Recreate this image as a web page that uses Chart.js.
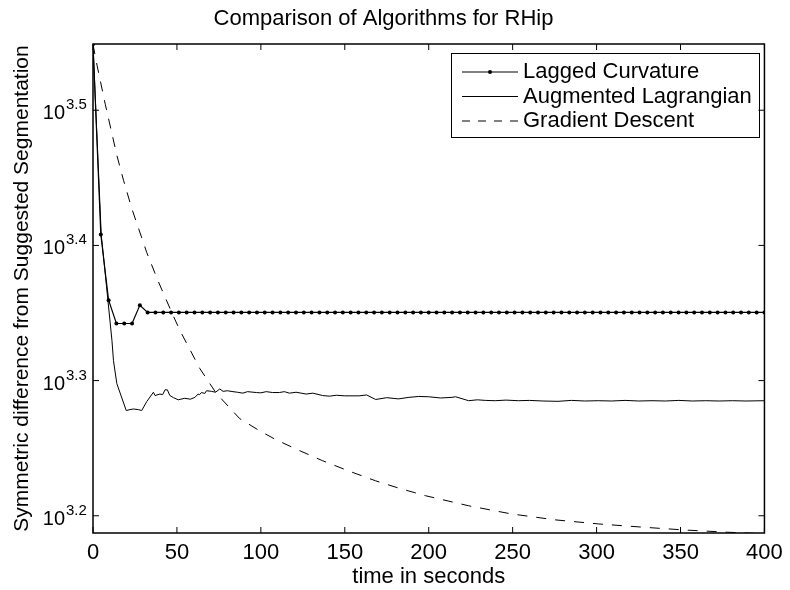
<!DOCTYPE html>
<html>
<head>
<meta charset="utf-8">
<script src="https://cdn.jsdelivr.net/npm/chart.js@4.4.0/dist/chart.umd.min.js"></script>
<style>
  body { margin: 0; background: #fff; }
</style>
</head>
<body>
<canvas id="myChart" width="790" height="590"></canvas>
<script>
const FONT = '"Liberation Sans", Arial, Helvetica, sans-serif'

const seriesNames = ['Lagged Curvature', 'Augmented Lagrangian', 'Gradient Descent']

// Lagged Curvature: one marker per iteration, 86 equal steps over 400 s
const lagStep = 400 / 86
const lagValues = [
  3538, 2559, 2288, 2199, 2199, 2199, 2268,
  2241, 2241, 2241, 2241, 2241, 2241, 2241, 2241, 2241, 2241,
  2241, 2241, 2241, 2241, 2241, 2241, 2241, 2241, 2241, 2241,
  2241, 2241, 2241, 2241, 2241, 2241, 2241, 2241, 2241, 2241,
  2241, 2241, 2241, 2241, 2241, 2241, 2241, 2241, 2241, 2241,
  2241, 2241, 2241, 2241, 2241, 2241, 2241, 2241, 2241, 2241,
  2241, 2241, 2241, 2241, 2241, 2241, 2241, 2241, 2241, 2241,
  2241, 2241, 2241, 2241, 2241, 2241, 2241, 2241, 2241, 2241,
  2241, 2241, 2241, 2241, 2241, 2241, 2241, 2241, 2241, 2241,
]

const augTimes = [
  0, 4.9, 8, 11.3, 12.2, 14.2, 19.8, 22, 24.1, 27,
  29, 32, 36, 37, 39.9, 41.5, 42.9, 44.3, 45.8, 48,
  50.8, 54.7, 58, 60.7, 62.6, 63.5, 64.6, 66.6, 67.6, 70.6,
  73, 75.5, 77.5, 80, 83.4, 86, 89.3, 92, 97.3, 100,
  103.2, 107, 111, 114, 117, 121, 127, 131, 136.8, 140.8,
  145, 150, 158.5, 163, 168.4, 175, 182, 188.2, 194, 200,
  207, 213.9, 216, 223.8, 229, 233.7, 239.6, 246, 253.4, 260,
  268, 277, 285, 293, 301, 309, 317, 325, 333, 341,
  349, 357, 365, 373, 381, 389, 400,
]
const augValues = [
  3538, 2559, 2346, 2136, 2064, 1985, 1896, 1899, 1901, 1899,
  1896, 1925, 1956, 1945, 1950, 1948, 1964, 1964, 1945, 1938,
  1931, 1936, 1933, 1939, 1950, 1948, 1955, 1952, 1961, 1959,
  1956, 1967, 1959, 1961, 1958, 1956, 1953, 1958, 1955, 1954,
  1958, 1955, 1955, 1958, 1953, 1956, 1950, 1953, 1945, 1943,
  1946, 1944, 1944, 1947, 1932, 1938, 1934, 1939, 1942, 1941,
  1937, 1939, 1941, 1928, 1931, 1929, 1928, 1930, 1928, 1929,
  1927, 1926, 1929, 1927, 1928, 1927, 1929, 1927, 1928, 1927,
  1929, 1927, 1928, 1927, 1928, 1927, 1928,
]

const gdTimes = [
  0, 2.4, 7.3, 14.2, 18.2, 23.1, 32, 38.9, 46.9, 51.8,
  63.6, 73.5, 87.4, 99.2, 109, 123, 136.6, 152.6, 168.4, 182.3,
  198, 223.8, 249, 275, 301, 328.6, 352, 378, 400,
]
const gdValues = [
  3538, 3414, 3195, 2929, 2806, 2675, 2482, 2362, 2241, 2173,
  2037, 1952, 1870, 1832, 1804, 1771, 1741, 1710, 1682, 1661,
  1640, 1612, 1590, 1574, 1563, 1554, 1547, 1541, 1537,
]

const yTickExps = [3.2, 3.3, 3.4, 3.5]
const yMin = 1539
const yMax = 3540

const zip = (xs, ys) => ys.map((y, i) => ({ x: xs[i], y }))
const lagPoints = lagValues.map((y, i) => ({ x: i * lagStep, y }))

// MATLAB-like box, inner ticks, 10^x labels and legend
const matlabBox = {
  id: 'matlabBox',
  afterDatasetsDraw(chart) {
    const ctx = chart.ctx
    const bx = 451.5, by = 53.5, bw = 308, bh = 84
    ctx.save()
    ctx.fillStyle = '#fff'
    ctx.strokeStyle = '#000'
    ctx.lineWidth = 1
    ctx.fillRect(bx, by, bw, bh)
    ctx.strokeRect(bx, by, bw, bh)
    const rows = [72, 96.5, 121]
    chart.data.datasets.forEach((ds, i) => {
      const y = rows[i]
      ctx.beginPath()
      ctx.setLineDash(ds.borderDash ? [8, 8] : [])
      ctx.lineWidth = ds.borderWidth
      ctx.moveTo(462, y)
      ctx.lineTo(518, y)
      ctx.stroke()
      ctx.setLineDash([])
      if (ds.pointRadius > 0) {
        ctx.beginPath()
        ctx.fillStyle = '#000'
        ctx.arc(490, y, ds.pointRadius, 0, Math.PI * 2)
        ctx.fill()
      }
      ctx.fillStyle = '#000'
      ctx.font = '22px ' + FONT
      ctx.textAlign = 'left'
      ctx.textBaseline = 'alphabetic'
      ctx.fillText(ds.label, 523, y + 6)
    })
    ctx.restore()
  },
  afterDraw(chart) {
    const ctx = chart.ctx
    const { left, right, top, bottom } = chart.chartArea
    const xs = chart.scales.x
    const ys = chart.scales.y
    ctx.save()
    ctx.strokeStyle = '#000'
    ctx.lineWidth = 1
    ctx.beginPath()
    xs.ticks.forEach(t => {
      const px = xs.getPixelForValue(t.value)
      ctx.moveTo(px, bottom)
      ctx.lineTo(px, bottom - 6)
      ctx.moveTo(px, top)
      ctx.lineTo(px, top + 6)
    })
    ys.ticks.forEach(t => {
      const py = ys.getPixelForValue(t.value)
      ctx.moveTo(left, py)
      ctx.lineTo(left + 6, py)
      ctx.moveTo(right, py)
      ctx.lineTo(right - 6, py)
    })
    ctx.stroke()
    ctx.lineWidth = 1.5
    ctx.strokeRect(left, top, right - left, bottom - top)

    ctx.fillStyle = '#000'
    ctx.textBaseline = 'alphabetic'
    yTickExps.forEach(e => {
      const py = ys.getPixelForValue(Math.pow(10, e))
      ctx.font = '20px ' + FONT
      ctx.textAlign = 'right'
      ctx.fillText('10', 65, py + 9)
      ctx.font = '15px ' + FONT
      ctx.textAlign = 'left'
      ctx.fillText(e.toFixed(1), 66, py - 1)
    })
    ctx.restore()
  },
}

Chart.defaults.font.family = FONT
Chart.defaults.color = '#000'

const ctx = document.getElementById('myChart').getContext('2d')
const myChart = new Chart(ctx, {
  type: 'line',
  data: {
    datasets: [
      {
        label: seriesNames[0],
        data: lagPoints,
        borderColor: '#000',
        borderWidth: 1.2,
        pointRadius: 2,
        pointBackgroundColor: '#000',
        pointBorderWidth: 0,
        pointHoverRadius: 2,
      },
      {
        label: seriesNames[1],
        data: zip(augTimes, augValues),
        borderColor: '#000',
        borderWidth: 1,
        pointRadius: 0,
      },
      {
        label: seriesNames[2],
        data: zip(gdTimes, gdValues),
        borderColor: '#000',
        borderWidth: 1,
        borderDash: [10, 9],
        pointRadius: 0,
      },
    ],
  },
  options: {
    responsive: false,
    animation: false,
    layout: { padding: { left: 0, right: 23, top: 0, bottom: 0 } },
    plugins: {
      legend: { display: false },
      tooltip: { enabled: false },
      title: {
        display: true,
        text: 'Comparison of Algorithms for RHip',
        font: { size: 22, weight: 'normal' },
        color: '#000',
        padding: { top: 6, bottom: 11.6 },
      },
    },
    scales: {
      x: {
        type: 'linear',
        min: 0,
        max: 400,
        grid: { display: false, drawTicks: false },
        border: { display: false },
        ticks: { stepSize: 50, font: { size: 22 }, padding: 7.2, maxRotation: 0, autoSkip: false },
        title: { display: true, text: 'time in seconds', font: { size: 22 }, padding: { top: 0, bottom: 0 } },
        afterFit(scale) { scale.height = 57 },
      },
      y: {
        type: 'logarithmic',
        min: yMin,
        max: yMax,
        grid: { display: false, drawTicks: false },
        border: { display: false },
        ticks: { display: false },
        afterBuildTicks(scale) {
          scale.ticks = yTickExps.map(e => ({ value: Math.pow(10, e) }))
        },
        title: {
          display: true,
          text: 'Symmetric difference from Suggested Segmentation',
          font: { size: 21 },
          padding: { top: 9.4, bottom: 0 },
        },
        afterFit(scale) { scale.width = 93 },
      },
    },
  },
  plugins: [matlabBox],
})
</script>
</body>
</html>
